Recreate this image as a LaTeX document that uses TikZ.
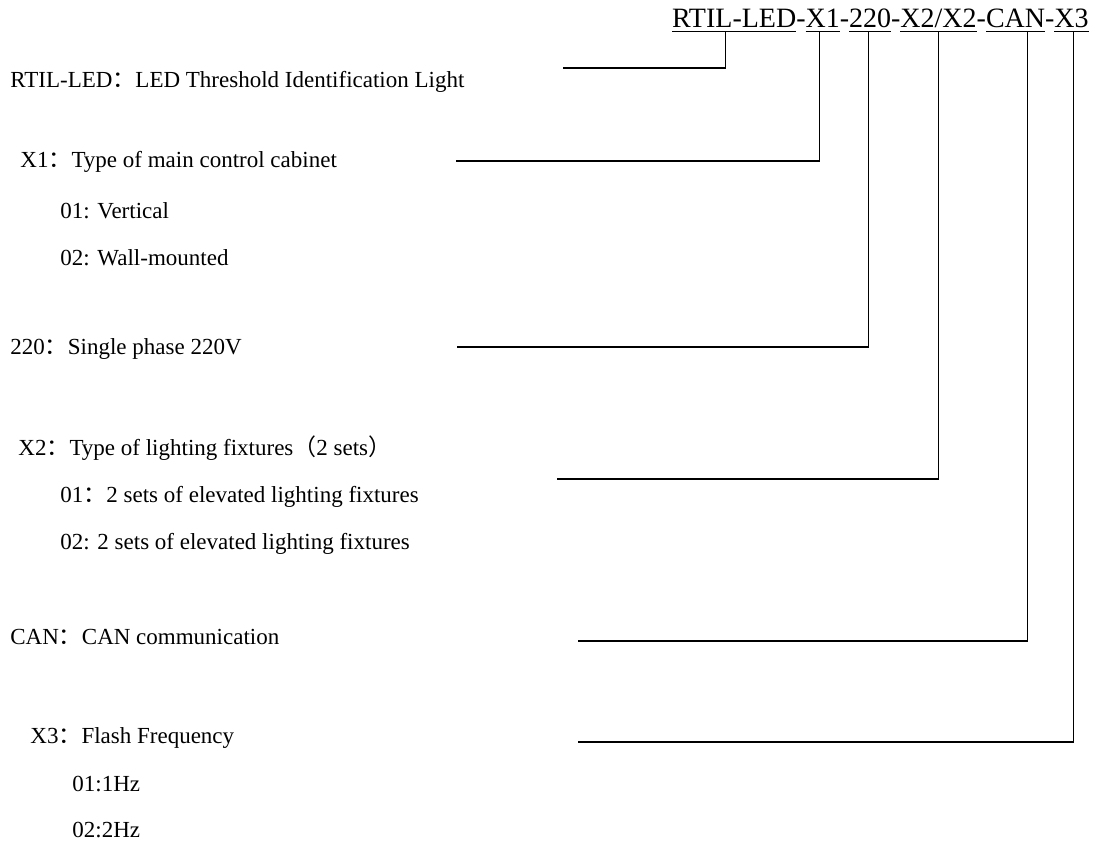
\documentclass[tikz,border=0pt]{standalone}
\usepackage{fontspec}
\setmainfont{Liberation Serif}
\newfontfamily\cjkfont{Noto Sans CJK SC}
\usetikzlibrary{positioning}
\newcommand{\fwc}{{\cjkfont ：}}

\begin{document}
\begin{tikzpicture}[
    x=0.5pt, y=-0.5pt,
    code/.style={inner sep=0pt, outer sep=0pt, font=\fontsize{14}{16}\selectfont},
    lbl/.style={anchor=west, inner sep=0pt, font=\fontsize{11.5}{13}\selectfont},
    uline/.style={line width=0.6pt},
    lead/.style={line width=0.6pt}
]
\useasboundingbox (0,0) rectangle (1100,846);

\node[code, anchor=base west] (rtil) at (672,27) {RTIL-LED};
\node[code, base right=0pt of rtil] (dashA) {-};
\node[code, base right=0pt of dashA] (xone) {X1};
\node[code, base right=0pt of xone] (dashB) {-};
\node[code, base right=0pt of dashB] (volt) {220};
\node[code, base right=0pt of volt] (dashC) {-};
\node[code, base right=0pt of dashC] (xtwo) {X2/X2};
\node[code, base right=0pt of xtwo] (dashD) {-};
\node[code, base right=0pt of dashD] (can) {CAN};
\node[code, base right=0pt of can] (dashE) {-};
\node[code, base right=0pt of dashE] (xthree) {X3};

\foreach \seg in {rtil,xone,volt,xtwo,can,xthree}
  \draw[uline] ([yshift=-2.2pt]\seg.base west) -- ([yshift=-2.2pt]\seg.base east);

\node[lbl] (lrtil) at (10,82) {RTIL-LED\fwc LED Threshold Identification Light};
\node[lbl] (lxone) at (20,162) {X1\fwc Type of main control cabinet};
\node[lbl] (lxoneA) at (60,211) {01: Vertical};
\node[lbl] (lxoneB) at (60,258) {02: Wall-mounted};
\node[lbl] (lvolt) at (10,349) {220\fwc Single phase 220V};
\node[lbl] (lxtwo) at (18,448) {X2\fwc Type of lighting fixtures{\cjkfont （}2 sets{\cjkfont ）}};
\node[lbl] (lxtwoA) at (60,497) {01\fwc 2 sets of elevated lighting fixtures};
\node[lbl] (lxtwoB) at (60,544) {02: 2 sets of elevated lighting fixtures};
\node[lbl] (lcan) at (10,637) {CAN\fwc CAN communication};
\node[lbl] (lxthree) at (30,738) {X3\fwc Flash Frequency};
\node[lbl] (lxthreeA) at (72,784) {01:1Hz};
\node[lbl] (lxthreeB) at (72,830) {02:2Hz};

\coordinate (ertil) at (563,68);
\coordinate (exone) at (456,161);
\coordinate (evolt) at (457,347);
\coordinate (extwo) at (557,479);
\coordinate (ecan) at (578,641);
\coordinate (exthree) at (578,742);

\draw[lead] (ertil) -| ([xshift=-4.5pt,yshift=-2.2pt]rtil.base);
\draw[lead] (exone) -| ([xshift=-1.5pt,yshift=-2.2pt]xone.base);
\draw[lead] (evolt) -| ([xshift=-1pt,yshift=-2.2pt]volt.base);
\draw[lead] (extwo) -| ([yshift=-2.2pt]xtwo.base);
\draw[lead] (ecan) -| ([xshift=6pt,yshift=-2.2pt]can.base);
\draw[lead] (exthree) -| ([xshift=1pt,yshift=-2.2pt]xthree.base);
\end{tikzpicture}
\end{document}
